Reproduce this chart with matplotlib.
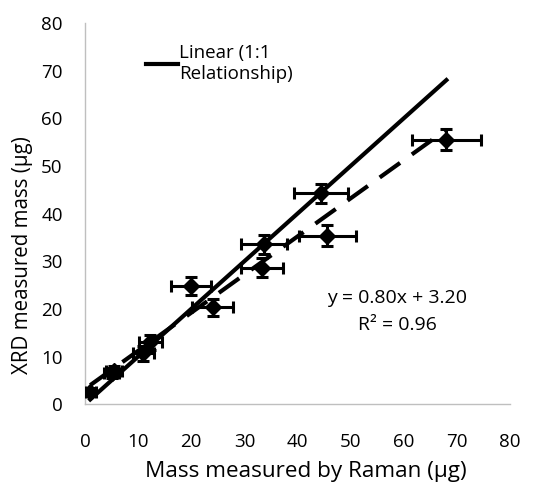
import numpy as np
import matplotlib
matplotlib.use('agg')
import matplotlib.pyplot as plt

# Raman vs XRD measured mass (ug)
raman = [1.0, 5.0, 5.5, 11.0, 12.3, 20.0, 24.0, 33.3, 33.7, 44.4, 45.6, 68.0]
xrd = [2.5, 6.5, 7.0, 10.7, 13.0, 24.8, 20.3, 28.6, 33.6, 44.3, 35.3, 55.5]
raman_err = [1.0, 1.5, 1.5, 2.0, 2.2, 3.8, 3.9, 4.0, 4.3, 5.0, 5.4, 6.5]
xrd_err = [0.8, 1.0, 1.0, 1.6, 1.6, 1.8, 1.8, 2.0, 2.0, 2.0, 2.2, 2.2]
slope, intercept, r2 = 0.80, 3.20, 0.96

plt.rcParams['font.family'] = ['Open Sans', 'DejaVu Sans']

fig = plt.figure(figsize=(5.41, 4.87), dpi=100)
ax = fig.add_axes([0.157, 0.170, 0.786, 0.783])

x_fit = np.array([min(raman), max(raman)])
ax.plot(x_fit, x_fit, color='black', linewidth=3, label='Linear (1:1\nRelationship)', zorder=2)
ax.plot(x_fit, slope * x_fit + intercept, color='black', linewidth=3,
        linestyle=(0, (6, 3.5)), zorder=2)
ax.errorbar(raman, xrd, xerr=raman_err, yerr=xrd_err, fmt='D', color='black',
            markersize=8, elinewidth=2.2, capsize=4, capthick=2.2, zorder=3)

ax.text(58.8, 22.3, 'y = 0.80x + 3.20', ha='center', va='center', fontsize=14)
ax.text(58.8, 16.6, 'R² = 0.96', ha='center', va='center', fontsize=14)

ax.set_xlim(0, 80)
ax.set_ylim(0, 80)
ax.set_xticks(range(0, 81, 10))
ax.set_yticks(range(0, 81, 10))
ax.tick_params(axis='x', length=0, labelsize=13.5, pad=21)
ax.tick_params(axis='y', length=0, labelsize=13.5, pad=16)
for s in ['top', 'right']:
    ax.spines[s].set_visible(False)
for s in ['left', 'bottom']:
    ax.spines[s].set_color('#bfbfbf')
    ax.spines[s].set_linewidth(1)

ax.set_xlabel('Mass measured by Raman (µg)', fontsize=16.2, labelpad=7)
ax.set_ylabel('XRD measured mass (µg)', fontsize=14.8, labelpad=6)
ax.xaxis.label.set_x(0.52)
ax.yaxis.label.set_y(0.39)

ax.legend(loc='upper left', bbox_to_anchor=(0.125, 0.965), frameon=False, fontsize=13.5,
          handlelength=1.75, handletextpad=0.05, borderaxespad=0)

fig.savefig('out.png', dpi=100)
